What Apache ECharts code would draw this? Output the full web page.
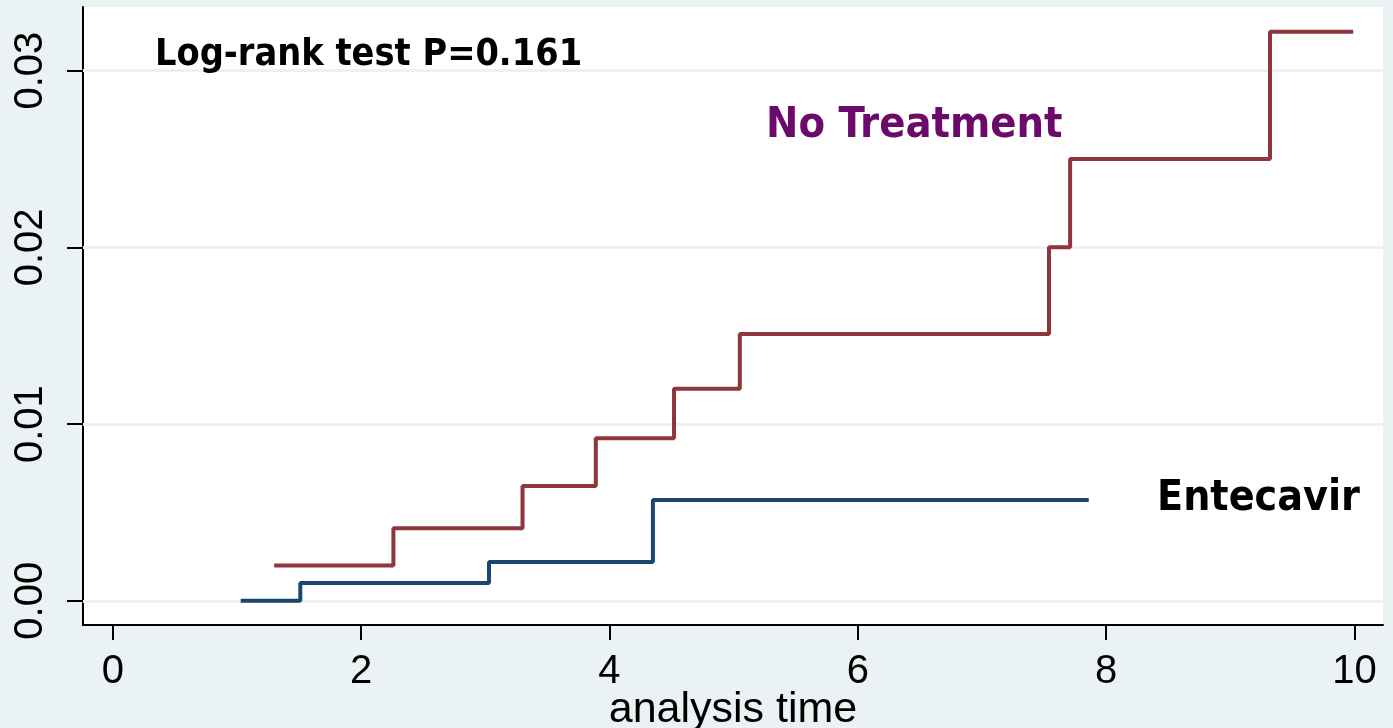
<!DOCTYPE html>
<html>
<head>
<meta charset="utf-8">
<script src="https://cdn.jsdelivr.net/npm/echarts@6/dist/echarts.min.js"></script>
<style>
  html, body { margin: 0; padding: 0; background: #EAF2F3; }
  #chart { width: 1393px; height: 728px; }
</style>
</head>
<body>
<div id="chart"></div>
<script>
// ---- data ----
const entecavirTime = [1.03, 1.51, 3.03, 4.35, 7.86];
const entecavirRisk = [0.0000, 0.0010, 0.0022, 0.0057, 0.0057];
const noTreatTime = [1.30, 2.26, 3.30, 3.89, 4.52, 5.05, 7.54, 7.71, 9.32, 9.99];
const noTreatRisk = [0.0020, 0.0041, 0.0065, 0.0092, 0.0120, 0.0151, 0.0200, 0.0250, 0.0322, 0.0322];
const xTicks = [0, 2, 4, 6, 8, 10];
const yTicks = [0, 0.01, 0.02, 0.03];
const xTitle = 'analysis time';
const pText = 'Log-rank test P=0.161';
const labelNoTreat = 'No Treatment';
const labelEntecavir = 'Entecavir';

const pairs = (xs, ys) => xs.map((x, i) => [x, ys[i]]);

const chart = echarts.init(document.getElementById('chart'), null, { renderer: 'canvas' });
const tickFont = { fontFamily: 'Liberation Sans, Arial, sans-serif', fontSize: 40, color: '#000' };
const boldFont = 'DejaVu Sans Condensed, DejaVu Sans, sans-serif';

chart.setOption({
  backgroundColor: '#EAF2F3',
  animation: false,
  grid: {
    left: 83, right: 10, top: 7, bottom: 103,
    containLabel: false, outerBoundsMode: 'none',
    show: true, backgroundColor: '#ffffff', borderWidth: 0
  },
  xAxis: {
    type: 'value',
    min: -0.24, max: 10.23,
    name: xTitle,
    nameLocation: 'middle',
    nameGap: 64,
    nameMoveOverlap: false,
    nameTextStyle: { fontFamily: 'Liberation Sans, Arial, sans-serif', fontSize: 43, color: '#000' },
    axisLine: { show: true, onZero: false, lineStyle: { color: '#000', width: 2 } },
    axisTick: { show: true, length: 15, lineStyle: { color: '#000', width: 2 }, customValues: xTicks },
    axisLabel: Object.assign({ margin: 27, customValues: xTicks, formatter: v => String(v) }, tickFont),
    splitLine: { show: false }
  },
  yAxis: {
    type: 'value',
    min: -0.00137, max: 0.0336,
    axisLine: { show: true, onZero: false, lineStyle: { color: '#000', width: 2 } },
    axisTick: { show: true, length: 16, lineStyle: { color: '#000', width: 2 }, customValues: yTicks },
    axisLabel: Object.assign({ margin: 32, rotate: 90, customValues: yTicks, formatter: v => v.toFixed(2) }, tickFont),
    splitLine: { show: false }
  },
  graphic: [
    { type: 'text', left: 155, top: 36, z: 10,
      style: { text: pText, font: 'bold 37.5px ' + boldFont, fill: '#000' } },
    { type: 'text', left: 766, top: 104, z: 10,
      style: { text: labelNoTreat, font: 'bold 43px ' + boldFont, fill: '#6B0A6B' } },
    { type: 'text', left: 1157, top: 477, z: 10,
      style: { text: labelEntecavir, font: 'bold 42.5px ' + boldFont, fill: '#000' } }
  ],
  series: [
    {
      type: 'line', data: [], z: 1, silent: true,
      markLine: {
        silent: true, symbol: ['none', 'none'], label: { show: false },
        lineStyle: { color: '#EAF2F3', type: 'solid', width: 3 },
        data: yTicks.map(v => ({ yAxis: v }))
      }
    },
    {
      name: 'No Treatment', type: 'line', step: 'end', zlevel: 1, z: 3,
      data: pairs(noTreatTime, noTreatRisk),
      showSymbol: false, symbol: 'none',
      lineStyle: { color: '#90353B', width: 4 }
    },
    {
      name: 'Entecavir', type: 'line', step: 'end', zlevel: 1, z: 3,
      data: pairs(entecavirTime, entecavirRisk),
      showSymbol: false, symbol: 'none',
      lineStyle: { color: '#1A476F', width: 4 }
    }
  ]
});
</script>
</body>
</html>
